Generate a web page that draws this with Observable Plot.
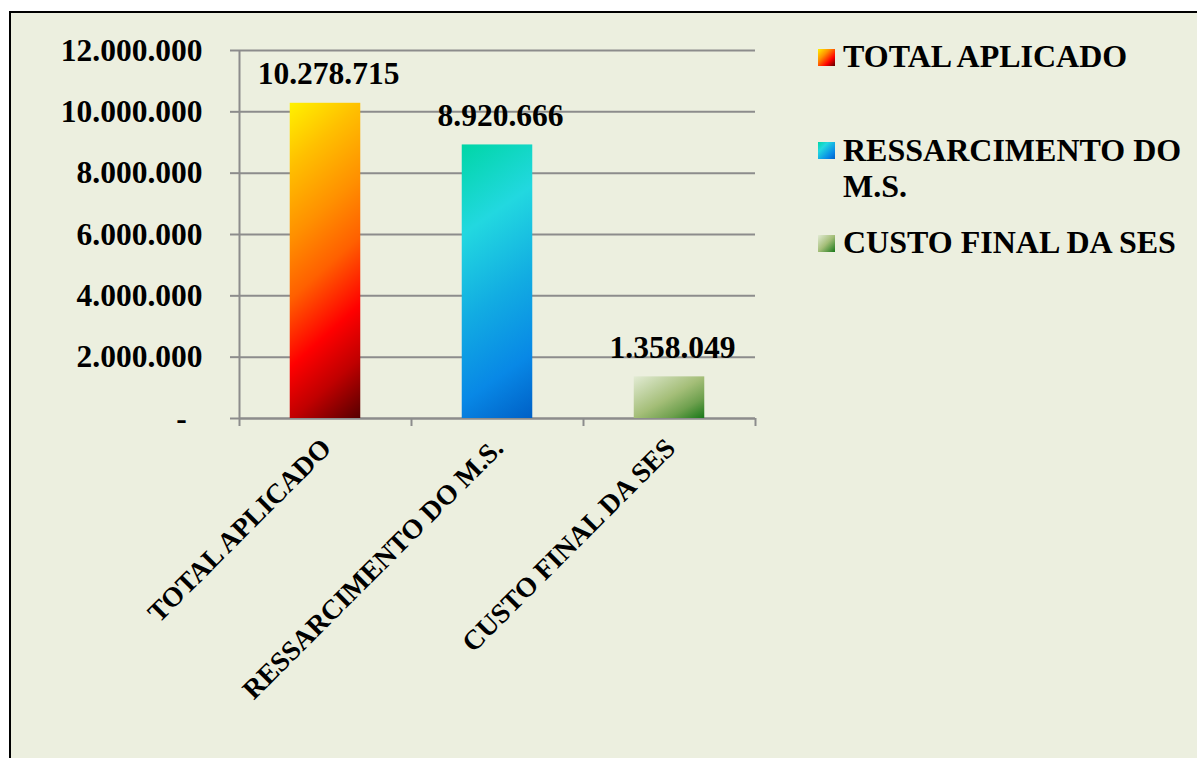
<!DOCTYPE html>
<html>
<head>
<meta charset="utf-8">
<script src="https://cdn.jsdelivr.net/npm/d3@7"></script>
<script src="https://cdn.jsdelivr.net/npm/@observablehq/plot@0.6"></script>
<style>
  html, body { margin: 0; padding: 0; overflow: hidden; background: #ffffff; }
  body { width: 1197px; height: 758px; position: relative; font-family: "Liberation Serif", "Times New Roman", serif; }
  #frame { position: absolute; left: 9px; top: 11px; width: 1300px; height: 900px; border: 2px solid #000; background: #ECEFDF; }
  #chart { position: absolute; left: 0; top: 0; }
  #legend { position: absolute; left: 818px; top: 0; }
  .item { position: absolute; left: 0; width: 375px; font-weight: bold; font-size: 32px; line-height: 36.6px; color: #000; }
  .sw { position: absolute; left: 0; top: 10.5px; width: 17px; height: 17px; }
  .lbl { margin-left: 25px; width: 350px; }
</style>
</head>
<body>
<div id="frame"></div>
<div id="chart"></div>
<div id="legend"></div>
<script>
// ---- data ----
const categories = ["TOTAL APLICADO", "RESSARCIMENTO DO M.S.", "CUSTO FINAL DA SES"];
const values = [10278715, 8920666, 1358049];
const yTicks = [0, 2000000, 4000000, 6000000, 8000000, 10000000, 12000000];

// ---- styling ----
const gradients = [
  {x2: 0.231, y2: 1.154, stops: [[0, "#FFF200"], [0.17, "#FFC000"], [0.36, "#FF9000"], [0.52, "#FF6000"], [0.7, "#FF0000"], [0.84, "#C00000"], [1, "#560000"]]},
  {x2: 0.204, y2: 1.142, stops: [[0, "#00D6A6"], [0.28, "#22D8E0"], [0.55, "#12ACE2"], [0.8, "#0888E6"], [1, "#0060C6"]]},
  {x2: 1, y2: 1, stops: [[0, "#E2EBD4"], [0.5, "#A4BE78"], [0.75, "#6EA04E"], [1, "#187818"]]}
];
const legendCss = [
  "linear-gradient(135deg, #FFF200 0%, #FF9000 35%, #FF0000 70%, #560000 100%)",
  "linear-gradient(135deg, #00D6A6 0%, #22D8E0 30%, #0888E6 75%, #0060C6 100%)",
  "linear-gradient(135deg, #E2EBD4 0%, #A4BE78 50%, #187818 100%)"
];
const legendTops = [38.2, 131.6, 224.2];
const gray = "#8c8c8c";
const font = '"Liberation Serif", "Times New Roman", serif';

const loc = d3.formatLocale({decimal: ",", thousands: ".", grouping: [3], currency: ["", ""]});
const fmt = loc.format(",d");

const data = categories.map((name, i) => ({name, i, value: values[i], fill: `url(#grad${i})`}));

const plot = Plot.plot({
  width: 1197,
  height: 758,
  marginLeft: 239,
  marginRight: 442,
  marginTop: 50,
  marginBottom: 340,
  style: {background: "transparent", fontFamily: font, overflow: "visible"},
  x: {domain: [0, categories.length], axis: null},
  y: {domain: [0, 12000000], axis: null},
  color: {type: "identity"},
  marks: [
    Plot.gridY(yTicks, {stroke: gray, strokeOpacity: 1, strokeWidth: 2}),
    Plot.axisY({ticks: yTicks, tickSize: 9, tickPadding: 28, label: null,
      tickFormat: d => d === 0 ? "-\u00a0\u00a0" : fmt(d),
      fontSize: 31.5, fontWeight: "bold", fill: "#000", stroke: gray, strokeWidth: 2}),
    Plot.axisX({ticks: d3.range(categories.length + 1), tickSize: 8, tickFormat: () => "", label: null,
      stroke: gray, strokeWidth: 2}),
    Plot.ruleX([0], {stroke: gray, strokeWidth: 2}),
    Plot.ruleY([0], {stroke: gray, strokeWidth: 2}),
    Plot.rectY(data, {x1: d => d.i + 0.295, x2: d => d.i + 0.705, y: "value", fill: "fill"}),
    Plot.text(data, {x: d => d.i + 0.5, y: "value", text: d => fmt(d.value), dx: 3, dy: -29.4,
      fontSize: 31.5, fontWeight: "bold", fill: "#000"}),
    Plot.text(data, {x: d => d.i + 0.5, y: 0, text: "name", rotate: -45, textAnchor: "end", dx: 1, dy: 25,
      fontSize: 27.7, fontWeight: "bold", fill: "#000"})
  ]
});

// gradient definitions
const ns = "http://www.w3.org/2000/svg";
const defs = document.createElementNS(ns, "defs");
gradients.forEach((g, i) => {
  const lg = document.createElementNS(ns, "linearGradient");
  lg.setAttribute("id", `grad${i}`);
  lg.setAttribute("x1", 0); lg.setAttribute("y1", 0);
  lg.setAttribute("x2", g.x2); lg.setAttribute("y2", g.y2);
  g.stops.forEach(([o, c]) => {
    const s = document.createElementNS(ns, "stop");
    s.setAttribute("offset", o);
    s.setAttribute("stop-color", c);
    lg.appendChild(s);
  });
  defs.appendChild(lg);
});
plot.insertBefore(defs, plot.firstChild);
document.getElementById("chart").appendChild(plot);

// legend
const legend = document.getElementById("legend");
categories.forEach((name, i) => {
  const item = document.createElement("div");
  item.className = "item";
  item.style.top = legendTops[i] + "px";
  const sw = document.createElement("div");
  sw.className = "sw";
  sw.style.background = legendCss[i];
  const lbl = document.createElement("div");
  lbl.className = "lbl";
  lbl.textContent = name;
  item.appendChild(sw);
  item.appendChild(lbl);
  legend.appendChild(item);
});
</script>
</body>
</html>
